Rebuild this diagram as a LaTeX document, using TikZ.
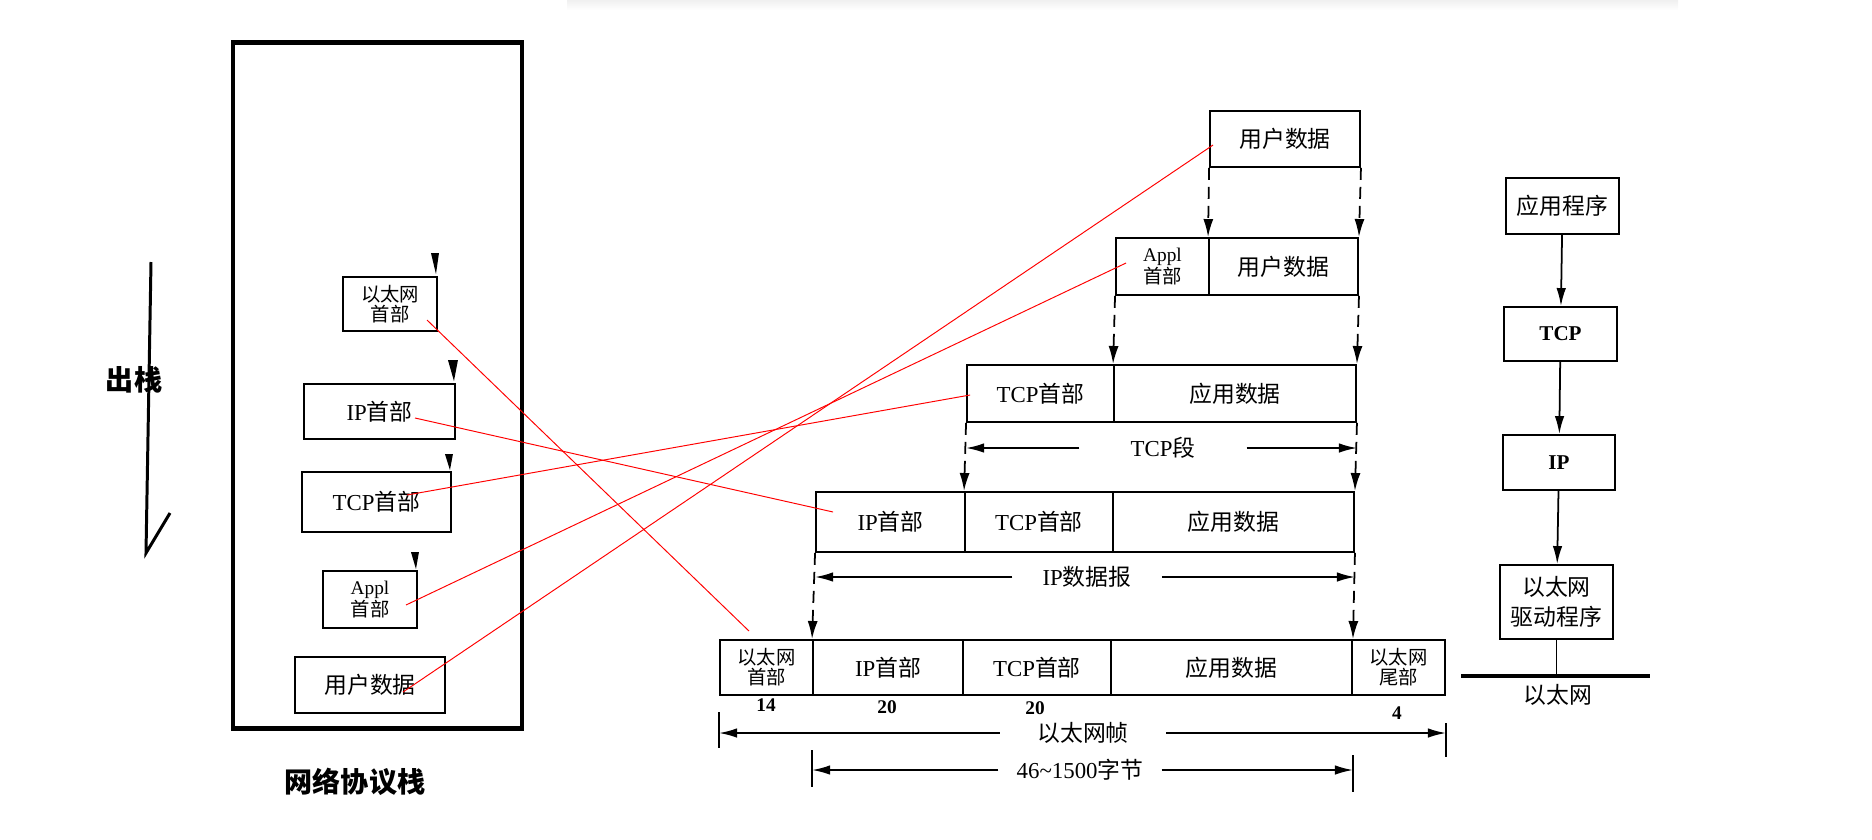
\documentclass[tikz,border=0pt]{standalone}
\usepackage{fontspec}
\setmainfont{Liberation Serif}
\newfontfamily\cjk{Noto Sans CJK SC}
\usetikzlibrary{arrows.meta,positioning}

\begin{document}
\begin{tikzpicture}[x=0.02cm,y=-0.02cm]
\tikzset{
  cellbox/.style={draw,line width=1.1pt,inner sep=1pt,align=center,font=\cjk\fontsize{13}{15}\selectfont},
  twoline/.style={font=\cjk\fontsize{11}{11.5}\selectfont},
  dimtext/.style={inner ysep=0pt,font=\cjk\fontsize{13}{15}\selectfont},
  descend/.style={-{Latex[length=3.6mm,width=2mm]},line width=1pt,dash pattern=on 2.4mm off 1.4mm},
  dimline/.style={-{Latex[length=3.6mm,width=1.9mm]},line width=1pt},
  redlink/.style={red,line width=0.55pt},
  marker/.style={fill=black},
  bytecount/.style={inner sep=0pt,font=\bfseries\fontsize{11}{12}\selectfont},
  headline/.style={font=\cjk\bfseries\fontsize{16}{18}\selectfont}
}
\useasboundingbox (0,0) rectangle (1872,839);
\shade[top color=black!6,bottom color=white] (567,0) rectangle (1678,10);

% left: the stack
\node[draw,line width=2.8pt,minimum width=5.78cm,minimum height=13.74cm] (frame) at (377.5,385.5) {};
\node[headline] (popLbl) at (134,380) {出栈};
\node[headline] (stackLbl) at (355,782) {网络协议栈};
\coordinate (popTop) at (151,262);
\coordinate (popEnd) at (146,553);
\draw[line width=1.7pt] (popTop) -- (popEnd) -- (170,513);

\node[cellbox,twoline,minimum width=1.88cm,minimum height=1.08cm] (lEth) at (390,304) {以太网\\首部};
\node[cellbox,minimum width=3.02cm,minimum height=1.10cm] (lIP) at (379.5,411.5) {{\rmfamily IP}首部};
\node[cellbox,minimum width=2.98cm,minimum height=1.20cm] (lTCP) at (376.5,502) {{\rmfamily TCP}首部};
\node[cellbox,twoline,minimum width=1.88cm,minimum height=1.14cm] (lAppl) at (370,599.5) {{\rmfamily Appl}\\首部};
\node[cellbox,minimum width=3.00cm,minimum height=1.12cm] (lUser) at (370,685) {用户数据};
\fill[marker] ([shift={(-7,-23)}]lEth.north east) -- ++(8,0) -- ++(-3,21) -- cycle;
\fill[marker] ([shift={(-8,-23)}]lIP.north east) -- ++(10,0) -- ++(-4,21) -- cycle;
\fill[marker] ([shift={(-7,-17)}]lTCP.north east) -- ++(8,0) -- ++(-3,16) -- cycle;
\fill[marker] ([shift={(-7,-18)}]lAppl.north east) -- ++(8,0) -- ++(-3,17) -- cycle;

% middle: encapsulation
\node[cellbox,minimum width=3.00cm,minimum height=1.12cm] (uTop) at (1285,139) {用户数据};

\node[cellbox,twoline,minimum width=1.86cm,minimum height=1.14cm] (r2Appl) at (1162.5,266.5) {{\rmfamily Appl}\\首部};
\node[cellbox,minimum width=2.98cm,minimum height=1.14cm] (r2User) at (1283.5,266.5) {用户数据};

\node[cellbox,minimum width=2.94cm,minimum height=1.14cm] (r3TCP) at (1040.5,393.5) {{\rmfamily TCP}首部};
\node[cellbox,minimum width=4.84cm,minimum height=1.14cm] (r3App) at (1235,393.5) {应用数据};

\node[cellbox,minimum width=2.98cm,minimum height=1.20cm] (r4IP) at (890.5,522) {{\rmfamily IP}首部};
\node[cellbox,minimum width=2.96cm,minimum height=1.20cm] (r4TCP) at (1039,522) {{\rmfamily TCP}首部};
\node[cellbox,minimum width=4.82cm,minimum height=1.20cm] (r4App) at (1233.5,522) {应用数据};

\node[cellbox,twoline,minimum width=1.86cm,minimum height=1.10cm] (r5Eth) at (766.5,667.5) {以太网\\首部};
\node[cellbox,minimum width=3.00cm,minimum height=1.10cm] (r5IP) at (888,667.5) {{\rmfamily IP}首部};
\node[cellbox,minimum width=2.96cm,minimum height=1.10cm] (r5TCP) at (1037,667.5) {{\rmfamily TCP}首部};
\node[cellbox,minimum width=4.82cm,minimum height=1.10cm] (r5App) at (1231.5,667.5) {应用数据};
\node[cellbox,twoline,minimum width=1.86cm,minimum height=1.10cm] (r5Trl) at (1398.5,667.5) {以太网\\尾部};

\node[bytecount] (b14) at (766,705) {14};
\node[bytecount] (b20a) at (887,707) {20};
\node[bytecount] (b20b) at (1035,708) {20};
\node[bytecount] (b4) at (1397,713) {4};

\draw[descend] (uTop.south west) -- (r2User.north west);
\draw[descend] (uTop.south east) -- (r2User.north east);
\draw[descend] (r2Appl.south west) -- (r3App.north west);
\draw[descend] (r2User.south east) -- (r3App.north east);
\draw[descend] (r3TCP.south west) -- (r4TCP.north west);
\draw[descend] (r3App.south east) -- (r4App.north east);
\draw[descend] (r4IP.south west) -- (r5IP.north west);
\draw[descend] (r4App.south east) -- (r5App.north east);

\node[dimtext,inner xsep=1.02cm] (segLbl) at (1163,448) {{\rmfamily TCP}段};
\draw[dimline] (segLbl.west) -- (segLbl.west -| r3TCP.west);
\draw[dimline] (segLbl.east) -- (segLbl.east -| r3App.east);

\node[dimtext,inner xsep=0.6cm] (dgLbl) at (1087,577) {{\rmfamily IP}数据报};
\draw[dimline] (dgLbl.west) -- (dgLbl.west -| r4IP.west);
\draw[dimline] (dgLbl.east) -- (dgLbl.east -| r4App.east);

\node[dimtext,inner xsep=0.74cm] (frLbl) at (1083,733) {以太网帧};
\draw[dimline] (frLbl.west) -- (frLbl.west -| r5Eth.west);
\draw[dimline] (frLbl.east) -- (frLbl.east -| r5Trl.east);
\draw[line width=1pt] (frLbl.west -| r5Eth.west) ++(0,-21) -- ++(0,36);
\draw[line width=1pt] (frLbl.east -| r5Trl.east) ++(0,-10) -- ++(0,34);

\node[dimtext,inner xsep=0.36cm] (byLbl) at (1080,770) {{\rmfamily 46\textasciitilde 1500}字节};
\draw[dimline] (byLbl.west) -- (byLbl.west -| r5IP.west);
\draw[dimline] (byLbl.east) -- (byLbl.east -| r5App.east);
\draw[line width=1pt] (byLbl.west -| r5IP.west) ++(0,-20) -- ++(0,37);
\draw[line width=1pt] (byLbl.east -| r5App.east) ++(0,-15) -- ++(0,37);

% right: the layers
\node[cellbox,minimum width=2.26cm,minimum height=1.12cm] (sApp) at (1562.5,206) {应用程序};
\node[cellbox,minimum width=2.26cm,minimum height=1.08cm] (sTCP) at (1560.5,334) {\rmfamily\bfseries\fontsize{12}{14}\selectfont TCP};
\node[cellbox,minimum width=2.24cm,minimum height=1.10cm] (sIP) at (1559,462.5) {\rmfamily\bfseries\fontsize{12}{14}\selectfont IP};
\node[cellbox,minimum width=2.26cm,minimum height=1.48cm,font=\cjk\fontsize{13}{17}\selectfont] (sDrv) at (1556.5,602) {以太网\\驱动程序};
\draw[dimline] (sApp) -- (sTCP);
\draw[dimline] (sTCP) -- (sIP);
\draw[dimline] (sIP) -- (sDrv);
\coordinate (busL) at (1461,676);
\coordinate (busR) at (1650,676);
\draw[line width=2.2pt] (busL) -- (busR);
\draw[line width=1pt] (sDrv.south) -- (sDrv.south |- busL);
\node[dimtext] (busLbl) at (1558,695) {以太网};

% red links
\draw[redlink] ([shift={(37,16)}]lEth.center) -- ([shift={(-17.5,-8)}]r5Eth.north);
\draw[redlink] ([shift={(35.5,6.5)}]lIP.center) -- ([shift={(18,-10)}]r4IP.west);
\draw[redlink] ([shift={(30.5,-7)}]lTCP.center) -- ([shift={(4,1.5)}]r3TCP.west);
\draw[redlink] ([shift={(36,5.5)}]lAppl.center) -- ([shift={(11,-3.5)}]r2Appl.west);
\draw[redlink] ([shift={(33,7)}]lUser.center) -- ([shift={(4,6)}]uTop.west);
\end{tikzpicture}
\end{document}
